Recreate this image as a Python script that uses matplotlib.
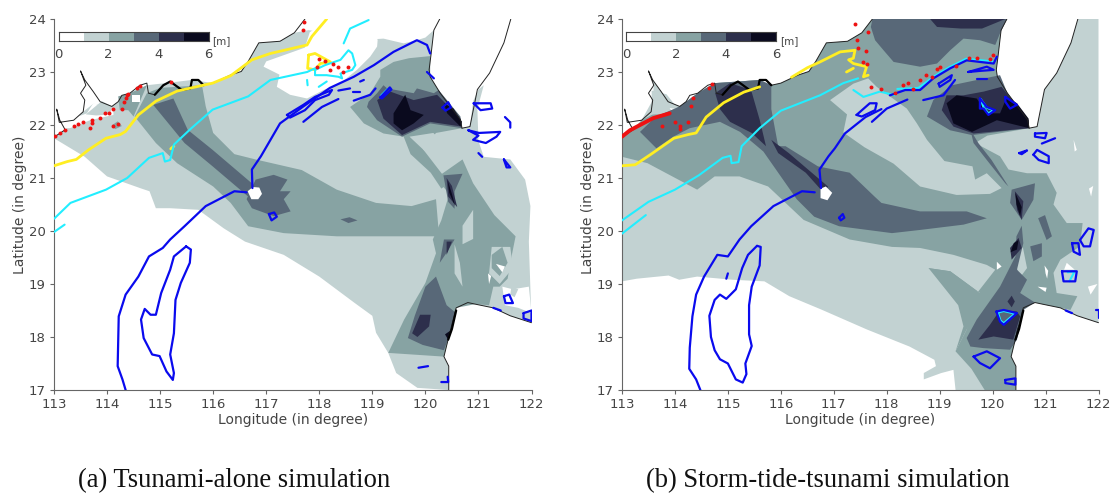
import matplotlib
matplotlib.use("Agg")
import matplotlib.pyplot as plt
from matplotlib.colors import ListedColormap

# depth classes, white to near black
level_colors = ["#ffffff", "#c2d2d2", "#87a3a3", "#586878", "#2d2f4c", "#0a0a1e"]
bar_ticks = [0, 2, 4, 6]
bar_values = [0, 1, 2, 3, 4, 5]
lon_ticks = [113, 114, 115, 116, 117, 118, 119, 120, 121, 122]
lat_ticks = [17, 18, 19, 20, 21, 22, 23, 24]

# coastlines shared by both panels
coast_china = [(113.0, 21.77), (113.21, 21.91), (113.11, 22.09), (113.05, 22.3), (113.1, 22.05), (113.37, 22.09),
               (113.55, 22.25), (113.58, 22.47), (113.5, 22.6), (113.6, 22.75), (113.5, 23.02), (113.58, 22.85),
               (113.74, 22.63), (113.87, 22.44), (114.09, 22.35), (114.21, 22.44), (114.28, 22.56), (114.43, 22.6),
               (114.62, 22.75), (114.75, 22.79), (114.78, 22.6), (114.9, 22.57), (115.06, 22.75), (115.19, 22.82),
               (115.41, 22.66), (115.57, 22.69), (115.6, 22.85), (115.72, 22.85), (115.82, 22.75), (116.0, 22.79),
               (116.32, 22.94), (116.53, 23.01), (116.66, 23.2), (116.86, 23.55), (117.26, 23.58), (117.53, 23.74),
               (117.73, 24)]
coast_dark = [(114.9, 22.57), (115.06, 22.75), (115.19, 22.82), (115.41, 22.66), (115.57, 22.69), (115.6, 22.85),
              (115.72, 22.85), (115.82, 22.75)]
coast_taiwan_w = [(120.69, 21.94), (120.66, 22.1), (120.28, 22.6), (120.09, 22.91), (120.07, 23.04), (120.11, 23.36),
                  (120.16, 23.79), (120.27, 24)]
coast_taiwan_e = [(120.69, 21.94), (120.84, 21.97), (120.98, 22.67), (121.21, 22.98), (121.48, 23.55), (121.61, 24)]
coast_luzon = [(120.44, 17), (120.44, 17.45), (120.35, 17.63), (120.44, 18.0), (120.58, 18.55), (120.8, 18.65),
               (120.94, 18.62), (121.28, 18.55), (121.6, 18.4), (122, 18.27)]
coast_luzon_dark = [(120.43, 17.95), (120.5, 18.15), (120.58, 18.5)]

# panel (a), filled contours as (lon, lat)
a_l1 = [(113, 21.78), (113.21, 21.91), (113.55, 22.25), (113.74, 22.4), (114.09, 22.35), (114.43, 22.6),
        (114.75, 22.75), (115.19, 22.8), (115.6, 22.85), (116.0, 22.79), (116.53, 23.01), (116.66, 23.2),
        (116.86, 23.55), (117.26, 23.58), (117.53, 23.74), (117.8, 23.79), (118.3, 23.7), (119.06, 23.62),
        (119.21, 23.63), (119.59, 23.54), (119.84, 23.6), (120.0, 23.65), (120.16, 23.79), (120.11, 23.36),
        (120.07, 23.04), (120.09, 22.91), (120.28, 22.6), (120.66, 22.1), (120.69, 21.94), (120.84, 21.97),
        (120.9, 22.45), (121.0, 22.67), (121.1, 22.75), (120.98, 22.3), (121.0, 21.7), (121.1, 21.4), (121.6, 21.35),
        (121.88, 20.97), (121.98, 20.47), (121.95, 19.8), (122, 18.27), (121.6, 18.4), (121.28, 18.55), (120.94, 18.62),
        (120.8, 18.65), (120.58, 18.55), (120.44, 18.0), (120.35, 17.63), (120.44, 17.45), (120.44, 17), (119.85, 17.04),
        (119.45, 17.32), (119.3, 17.7), (119.07, 18.08), (119, 18.4), (118.67, 18.64), (118, 19.14), (117.33, 19.55),
        (116.6, 19.8), (116.2, 20.05), (115.72, 20.4), (115.19, 20.43), (114.92, 20.43), (114.8, 20.75),
        (114.65, 20.8), (114, 21.03), (113.58, 21.4), (113, 21.75)]
a_white1 = [(117.0, 23.2), (117.73, 23.46), (117.82, 23.75), (118.2, 24), (119.0, 24), (119.1, 23.6), (119.09, 23.48),
            (118.96, 23.29), (118.71, 23.04), (118.4, 22.79), (118.08, 22.66), (117.77, 22.5), (117.45, 22.57),
            (117.2, 22.72), (117.25, 22.95), (116.95, 23.1)]
a_white2 = [(113.18, 21.94), (113.37, 22.13), (113.62, 22.22), (113.74, 22.41), (114.12, 22.31), (114.12, 22.19),
            (113.68, 22.09), (113.3, 21.94)]
a_white3 = [(121.45, 18.95), (121.65, 18.9), (121.95, 18.95), (122, 18.45), (121.75, 18.55), (121.5, 18.6)]
a_l1_north = [(113.6, 22.2), (113.9, 22.45), (114.1, 22.35), (114.05, 22.2), (113.8, 22.18)]
a_l1_arc = [(121.62, 18.95), (121.75, 18.9), (121.68, 18.75), (121.6, 18.8)]
a_l2_main = [(114.52, 22.16), (114.75, 22.6), (115.0, 22.7), (115.79, 22.75), (115.86, 22.35), (116.0, 21.85),
             (116.4, 21.45), (116.8, 21.35), (117.67, 21.15), (118.33, 20.78), (119.07, 20.53), (119.74, 20.47),
             (120.2, 20.6), (120.25, 20.0), (120.2, 19.9), (119.67, 19.9), (118.33, 19.9), (117.33, 19.96),
             (116.66, 20.09), (116.33, 20.53), (116, 20.84), (115.32, 21.28), (114.92, 21.66)]
a_l2_top = [(114.21, 22.54), (114.43, 22.6), (114.75, 22.75), (114.5, 22.16), (114.4, 22.28), (114.24, 22.28)]
a_l2_dot = [(114.1, 22.0), (114.2, 22.07), (114.28, 21.98), (114.15, 21.92)]
a_l2_strait = [(120.09, 23.3), (119.69, 23.26), (119.4, 23.19), (119.15, 23.04), (119.15, 22.91), (118.96, 22.6),
               (118.58, 22.34), (118.84, 22.03), (119.21, 21.84), (119.59, 21.78), (119.72, 21.45), (120.1, 21.1),
               (120.3, 20.8), (120.45, 20.9), (119.95, 21.55), (120.2, 21.85), (120.69, 21.94), (120.66, 22.1),
               (120.28, 22.6), (120.09, 22.91)]
a_l2_south = [(120.2, 21.0), (120.7, 21.35), (120.9, 20.9), (121.3, 20.3), (121.7, 19.9), (121.6, 19.4), (121.55, 19.1),
              (121.4, 18.95), (121.28, 18.95), (121.2, 18.6), (120.94, 18.62), (120.58, 18.55), (120.44, 18.0),
              (120.35, 17.63), (119.3, 17.7), (119.6, 18.33), (120.0, 19.02), (120.2, 19.58), (120.14, 19.84),
              (120.3, 20.2), (120.45, 20.7)]
a_l1_hole = [(119.7, 21.78), (120.15, 21.85), (120.55, 21.45), (120.4, 21.3), (120.05, 21.45)]
a_l1_hole2 = [(120.55, 19.75), (120.65, 19.4), (120.7, 18.95), (120.55, 19.2)]
a_l1_hole3 = [(121.25, 19.7), (121.6, 19.7), (121.65, 19.3), (121.4, 19.0), (121.2, 19.2)]
a_l1_hole4 = [(120.7, 20.1), (120.9, 20.4), (120.9, 19.85), (120.7, 19.75)]
a_l2_oval = [(121.25, 19.55), (121.45, 19.7), (121.55, 19.4), (121.4, 19.15), (121.25, 19.3)]
a_white_oval = [(121.33, 19.38), (121.5, 19.33), (121.45, 19.22)]
a_white_nick = [(121.18, 19.2), (121.24, 19.15), (121.2, 19.0)]
a_l3_wedge = [(114.87, 22.38), (115.25, 22.5), (115.52, 21.91), (115.99, 21.53), (116.8, 20.84), (116.66, 20.65),
              (115.99, 21.22), (115.46, 21.66)]
a_l3_blob = [(116.8, 20.97), (117.14, 21.06), (117.4, 20.97), (117.26, 20.75), (117.46, 20.75), (117.33, 20.6),
             (117.46, 20.37), (117.14, 20.28), (116.73, 20.43), (116.63, 20.6)]
a_l3_small = [(118.4, 20.22), (118.57, 20.26), (118.72, 20.2), (118.55, 20.15)]
a_l3_strait = [(118.93, 22.44), (119.09, 22.6), (119.21, 22.75), (119.28, 22.69), (119.78, 22.6), (119.84, 22.69),
               (120.16, 22.6), (120.25, 22.66), (120.66, 22.16), (120.69, 21.94), (120.09, 22.03), (119.56, 21.78),
               (119.09, 22.09), (118.9, 22.34)]
a_l3_trench = [(120.34, 21.05), (120.7, 21.08), (120.55, 20.75), (120.55, 20.42), (120.43, 20.55)]
a_l3_trench2 = [(120.35, 19.84), (120.55, 19.84), (120.4, 19.59), (120.27, 19.4)]
a_l3_south = [(120.0, 18.95), (120.2, 19.14), (120.4, 18.6), (120.58, 18.45), (120.44, 18.0), (120.35, 17.75),
              (119.95, 17.85), (119.67, 17.98), (119.8, 18.4)]
a_l4_strait = [(119.09, 22.47), (119.34, 22.63), (119.78, 22.47), (120.22, 22.57), (120.66, 22.12), (120.69, 21.97),
               (120.09, 22.06), (119.56, 21.81), (119.21, 22.12)]
a_l4_trench = [(120.4, 21.0), (120.5, 20.85), (120.6, 20.45), (120.43, 20.65)]
a_l4_trench2 = [(120.4, 19.8), (120.5, 19.8), (120.4, 19.55)]
a_l4_south = [(119.75, 18.07), (119.9, 18.42), (120.1, 18.42), (120.07, 18.2), (119.85, 18.0)]
a_l5_strait = [(119.4, 22.22), (119.62, 22.57), (119.72, 22.28), (119.97, 22.19), (119.78, 22.03), (119.56, 21.9),
               (119.4, 22.03)]
a_l5_strait2 = [(120.35, 22.41), (120.53, 22.31), (120.69, 22.06), (120.66, 21.97), (120.41, 22.22)]
a_l5_south = [(120.37, 18.05), (120.47, 18.12), (120.44, 17.93)]
a_l5_trench = [(120.42, 20.95), (120.5, 20.7), (120.56, 20.47), (120.45, 20.72)]
a_white_dong = [(116.65, 20.75), (116.75, 20.83), (116.87, 20.82), (116.92, 20.7), (116.85, 20.6), (116.72, 20.6)]
a_white_west = [(114.47, 22.56), (114.62, 22.56), (114.62, 22.43), (114.47, 22.43)]
a_fills = [(1, a_l1), (0, a_white1), (0, a_white2), (0, a_white3), (1, a_l1_north), (1, a_l1_arc),
           (2, a_l2_main), (2, a_l2_top), (2, a_l2_dot), (2, a_l2_strait), (2, a_l2_south),
           (1, a_l1_hole), (1, a_l1_hole2), (1, a_l1_hole3), (1, a_l1_hole4), (2, a_l2_oval), (0, a_white_oval), (0, a_white_nick),
           (3, a_l3_wedge), (3, a_l3_blob), (3, a_l3_small), (3, a_l3_strait), (3, a_l3_trench), (3, a_l3_trench2),
           (3, a_l3_south), (4, a_l4_strait), (4, a_l4_trench), (4, a_l4_trench2), (4, a_l4_south),
           (5, a_l5_strait), (5, a_l5_strait2), (5, a_l5_south), (5, a_l5_trench), (0, a_white_dong), (0, a_white_west)]

# panel (b), filled contours
b_l1 = [(113, 19.05), (113.28, 19.1), (113.88, 19.16), (114.08, 19.08), (114.42, 19.14), (115.09, 19.08),
        (115.69, 19.05), (116.16, 18.77), (116.76, 18.52), (117.63, 18.14), (118.43, 17.82), (118.9, 17.57),
        (118.93, 17.45), (118.7, 17.32), (118.7, 17.2), (119.03, 17.32), (119.26, 17.38), (119.3, 17), (120.44, 17),
        (120.44, 17.45), (120.35, 17.63), (120.44, 18.0), (120.58, 18.55), (120.8, 18.65), (120.94, 18.62), (121.28, 18.55),
        (121.6, 18.4), (122, 18.27), (122, 24), (121.61, 24), (121.48, 23.55), (121.21, 22.98), (120.98, 22.67),
        (120.84, 21.97), (120.69, 21.94), (120.66, 22.1), (120.28, 22.6), (120.09, 22.91), (120.07, 23.04), (120.11, 23.36),
        (120.16, 23.79), (120.27, 24), (117.73, 24), (117.53, 23.74), (117.26, 23.58), (116.86, 23.55), (116.66, 23.2),
        (116.53, 23.01), (116.32, 22.94), (116.0, 22.79), (115.82, 22.75), (115.6, 22.85), (115.19, 22.82), (114.75, 22.79),
        (114.43, 22.6), (114.09, 22.35), (113.87, 22.44), (113.74, 22.63), (113.58, 22.85), (113.5, 23.02), (113.6, 22.75),
        (113.58, 22.47), (113.37, 22.09), (113.21, 21.91), (113, 21.78)]
b_l2_main = [(113, 21.78), (113.21, 21.91), (113.37, 22.09), (113.58, 22.2), (113.74, 22.2), (114.09, 22.35), (114.43, 22.6),
             (114.75, 22.79), (115.19, 22.82), (115.6, 22.85), (115.82, 22.75), (116.0, 22.79), (116.32, 22.94), (116.53, 23.01),
             (116.66, 23.2), (116.86, 23.55), (117.26, 23.58), (117.53, 23.74), (117.73, 24), (120.27, 24), (120.16, 23.79),
             (120.11, 23.36), (120.07, 23.04), (120.09, 22.91), (120.28, 22.6), (120.66, 22.1), (120.69, 21.94), (119.9, 21.8),
             (119.67, 21.66), (120.14, 21.41), (120.3, 21.16), (120.65, 21.09), (121.02, 21.09), (121.21, 20.72), (121.15, 20.5),
             (121.4, 20.15), (121.7, 20.15), (121.65, 19.71), (121.28, 19.46), (121.15, 19.21), (121.21, 18.83), (121.6, 18.77),
             (121.47, 18.51), (121.28, 18.55), (120.94, 18.62), (120.8, 18.65), (120.58, 18.55), (120.44, 18.0), (120.35, 17.63),
             (120.44, 17.45), (120.44, 17), (119.85, 17), (119.6, 17.4), (119.3, 17.73), (119.51, 18.14), (119.76, 18.83),
             (119.2, 19.24), (118.79, 19.3), (119.35, 18.9), (119.73, 18.86), (120.05, 19.27), (119.89, 19.36), (119.26, 19.55),
             (118.63, 19.68), (118.1, 19.7), (117.3, 19.84), (116.43, 20.21), (115.76, 20.84), (115.22, 21.03), (114.75, 21.03),
             (114.42, 20.78), (113.95, 21.03), (113.48, 21.28), (113, 21.4)]
b_l2_tri = [(118.79, 19.3), (119.2, 19.24), (119.76, 18.83), (119.95, 18.85), (119.51, 18.14), (119.3, 17.73), (119.45, 18.2),
            (119.35, 18.6)]
b_l1_north = [(116.93, 22.47), (117.37, 22.78), (117.65, 22.88), (117.81, 22.72), (118.38, 22.31), (118.57, 22.03), (118.76, 21.72),
              (119.09, 21.32), (119.62, 21.22), (119.67, 20.97), (119.89, 21.09), (120.17, 20.81), (119.95, 20.7), (119.32, 20.68),
              (118.63, 20.84), (118.13, 21.27), (117.58, 21.58), (117.18, 21.86), (117.25, 22.2)]
b_l1_west = [(113.56, 22.65), (113.84, 22.58), (114.0, 22.38), (114.06, 22.28), (113.78, 22.22), (113.56, 22.2)]
b_white_west = [(113.9, 22.32), (114.25, 22.27), (114.2, 22.08), (114.0, 22.18)]
b_l1_south1 = [(120.42, 19.5), (120.57, 19.7), (120.65, 19.3), (120.5, 19.1)]
b_l1_south2 = [(121.45, 19.2), (121.7, 19.15), (121.9, 18.9), (121.5, 18.8)]
b_l3_north = [(117.7, 23.85), (117.78, 23.6), (117.94, 23.41), (118.13, 23.19), (118.63, 23.1), (118.95, 23.16), (119.2, 23.41),
              (119.45, 23.63), (119.76, 23.6), (120.05, 23.51), (120.14, 23.73), (120.27, 24), (117.73, 24)]
b_l4_top = [(118.82, 24), (118.95, 23.85), (119.4, 23.82), (119.8, 23.82), (120.24, 24)]
b_l3_band = [(113.34, 21.87), (113.65, 21.56), (113.97, 21.78), (114.28, 21.94), (114.85, 22.06), (115.23, 21.87), (115.67, 21.5),
             (116.3, 20.6), (116.63, 20.27), (117.1, 20.09), (118.1, 19.96), (118.63, 20.02), (119.45, 20.12), (119.89, 20.24),
             (119.51, 20.37), (118.63, 20.37), (117.9, 20.53), (117.77, 20.65), (117.3, 21.1), (116.7, 21.22), (116.09, 21.6),
             (115.95, 21.6), (115.82, 22.3), (115.82, 22.75), (115.6, 22.85), (115.19, 22.82), (114.75, 22.79), (114.43, 22.6),
             (114.09, 22.35), (113.74, 22.2), (113.58, 22.1)]
b_l3_strait = [(118.76, 22.16), (118.88, 22.47), (119.23, 22.75), (120.14, 22.94), (120.28, 22.6), (120.66, 22.1), (120.69, 21.94),
               (119.61, 21.81), (119.2, 21.9)]
b_l3_thin = [(119.58, 21.91), (119.73, 21.66), (119.98, 21.34), (120.3, 20.84), (120.24, 20.9), (119.89, 21.34), (119.64, 21.66)]
b_l3_trench = [(120.36, 20.78), (120.8, 20.9), (120.77, 20.59), (120.55, 20.21), (120.33, 20.53)]
b_l3_south = [(119.51, 17.98), (119.7, 18.33), (120.14, 18.95), (120.43, 19.52), (120.45, 19.9), (120.55, 20.1), (120.58, 19.77),
              (120.46, 19.27), (120.65, 19.08), (120.52, 18.83), (120.8, 18.65), (120.58, 18.51), (120.46, 17.95), (120.33, 17.76),
              (119.83, 17.79), (119.58, 17.82)]
b_l3_oval1 = [(120.86, 20.24), (120.99, 20.3), (121.12, 19.9), (121.02, 19.83)]
b_l3_oval2 = [(120.71, 19.71), (120.93, 19.77), (120.93, 19.52), (120.77, 19.43)]
b_l4_west = [(114.76, 22.6), (115.04, 22.79), (115.35, 22.69), (115.45, 22.62), (115.6, 22.1), (115.72, 21.6), (115.45, 21.85),
             (115.04, 22.06), (114.85, 22.3)]
b_l4_wedge = [(115.82, 21.72), (116.15, 21.47), (116.89, 20.84), (116.82, 20.71), (116.47, 21.1), (115.95, 21.47)]
b_l4_strait = [(119.04, 22.28), (119.13, 22.56), (119.45, 22.56), (119.83, 22.63), (120.17, 22.72), (120.68, 22.09), (120.69, 21.94),
               (119.64, 21.84), (119.26, 21.97)]
b_l4_trench = [(120.42, 20.75), (120.58, 20.56), (120.55, 20.21), (120.46, 20.4)]
b_l4_trench2 = [(120.33, 19.68), (120.49, 19.87), (120.55, 19.68), (120.36, 19.46)]
b_l4_south = [(119.73, 17.95), (119.95, 18.23), (120.14, 18.51), (120.46, 18.48), (120.52, 18.39), (120.39, 17.95), (120.02, 18.01)]
b_l4_dot = [(120.28, 18.67), (120.36, 18.78), (120.42, 18.67), (120.36, 18.56)]
b_l5_strait = [(119.13, 22.41), (119.32, 22.56), (119.7, 22.5), (119.89, 22.22), (120.14, 22.22), (120.27, 22.53), (120.46, 22.41),
               (120.68, 22.12), (120.69, 21.94), (120.08, 22.09), (119.61, 21.87), (119.26, 22.03)]
b_l5_trench = [(120.43, 20.72), (120.55, 20.45), (120.52, 20.28), (120.45, 20.5)]
b_l5_trench2 = [(120.4, 19.77), (120.49, 19.83), (120.46, 19.65), (120.34, 19.6)]
b_l5_south = [(120.46, 18.14), (120.52, 18.29), (120.43, 17.98)]
b_heart = [(120.07, 18.48), (120.21, 18.51), (120.46, 18.45), (120.21, 18.23), (120.14, 18.29)]
b_white_dong = [(116.75, 20.8), (116.85, 20.84), (116.97, 20.72), (116.88, 20.58), (116.75, 20.62)]
b_white_a = [(120.08, 19.42), (120.17, 19.33), (120.08, 19.27)]
b_white_b = [(121.4, 19.4), (121.55, 19.27), (121.35, 19.27)]
b_white_c = [(121.53, 21.72), (121.59, 21.53), (121.55, 21.5)]
b_white_d = [(121.82, 20.8), (121.9, 20.85), (121.86, 20.65)]
b_white_e = [(121.8, 18.95), (121.98, 19.0), (121.85, 18.8)]
b_white_f = [(120.85, 18.95), (121.02, 18.93), (121.0, 18.85)]
b_white_g = [(120.98, 19.35), (121.0, 19.2), (121.03, 19.1), (121.05, 19.25)]
b_fills = [(1, b_l1), (2, b_l2_main), (2, b_l2_tri), (1, b_l1_north), (1, b_l1_south1), (1, b_l1_south2),
           (1, b_l1_west), (0, b_white_west), (3, b_l3_north), (4, b_l4_top), (3, b_l3_band), (3, b_l3_strait), (3, b_l3_thin),
           (3, b_l3_trench), (3, b_l3_south), (3, b_l3_oval1), (3, b_l3_oval2),
           (4, b_l4_west), (4, b_l4_wedge), (4, b_l4_strait), (4, b_l4_trench), (4, b_l4_trench2), (4, b_l4_south), (4, b_l4_dot),
           (5, b_l5_strait), (5, b_l5_trench), (5, b_l5_trench2), (5, b_l5_south), (3, b_heart),
           (0, b_white_dong), (0, b_white_a), (0, b_white_b), (0, b_white_c), (0, b_white_d), (0, b_white_e), (0, b_white_f), (0, b_white_g)]

# tracks in panel (a)
a_yellow = [(113, 21.23), (113.25, 21.31), (113.42, 21.35), (113.65, 21.53), (113.98, 21.75), (114.25, 21.82),
            (114.35, 21.88), (114.59, 22.19), (114.92, 22.45), (115.32, 22.64), (115.99, 22.79), (116.33, 22.93),
            (116.73, 23.23), (117.08, 23.35), (117.77, 23.51), (117.86, 23.67), (118.14, 24)]
a_yellow_loop = [(117.8, 23.32), (117.92, 23.35), (118.21, 23.19), (118.02, 23.16), (117.92, 23.04), (117.78, 23.07), (117.8, 23.32)]
a_yellow_dab = [(115.2, 21.55), (115.26, 21.6)]
a_cyan = [(113, 20.23), (113.31, 20.53), (113.98, 20.78), (114.38, 21), (114.79, 21.38), (115.05, 21.47), (115.09, 21.31),
          (115.19, 21.34), (115.26, 21.63), (115.59, 21.94), (115.99, 22.29), (116.66, 22.54), (117.08, 22.85), (117.77, 23.0), (117.92, 23.07)]
a_cyan2 = [(118.46, 23.54), (118.58, 23.82), (118.93, 23.98)]
a_cyan3 = [(113, 19.98), (113.2, 20.12)]
a_cyan_loop = [(117.92, 23.04), (118.11, 23.13), (118.4, 23.23), (118.55, 23.41), (118.62, 23.35), (118.68, 23.13), (118.62, 23.04),
               (118.4, 22.97), (118.43, 22.88), (118.36, 22.91), (118.14, 22.94), (117.92, 22.94), (117.92, 23.04)]
a_cyan_s1 = [(117.77, 22.85), (117.78, 22.75)]
a_cyan_s2 = [(117.99, 22.72), (118.14, 22.82)]
a_cyan_s3 = [(119.17, 22.56), (119.29, 22.68)]
a_blue_north = [(116.74, 20.81), (116.73, 21.16), (116.9, 21.41), (117.08, 21.72), (117.26, 22.03), (117.7, 22.35), (118.2, 22.7),
                (118.65, 22.91), (119.03, 23.13), (119.4, 23.38), (119.84, 23.6), (120.03, 23.51), (120.09, 23.35)]
a_blue_south = [(116.63, 20.73), (116.4, 20.75), (115.86, 20.47), (115.46, 20.09), (115.19, 19.84), (115.05, 19.68),
                (114.79, 19.52), (114.59, 19.14), (114.35, 18.8), (114.22, 18.39), (114.2, 17.45), (114.29, 17.2), (114.35, 17)]
a_blue_loop = [(115.49, 19.71), (115.58, 19.65), (115.56, 19.4), (115.39, 19.02), (115.29, 18.7), (115.26, 18.07),
               (115.19, 17.67), (115.26, 17.32), (115.24, 17.19), (115.12, 17.35), (114.99, 17.64), (114.85, 17.67),
               (114.69, 17.98), (114.64, 18.33), (114.71, 18.53), (114.82, 18.42), (114.92, 18.42), (115.02, 18.83),
               (115.19, 19.27), (115.26, 19.52), (115.49, 19.71)]
a_blue_s1 = [(117.39, 22.19), (117.7, 22.38), (117.92, 22.53), (118.24, 22.66), (118.18, 22.57), (117.92, 22.47), (117.73, 22.28),
             (117.45, 22.14), (117.39, 22.19)]
a_blue_s2 = [(117.7, 22.06), (118.05, 22.34), (118.36, 22.49)]
a_blue_s3 = [(118.36, 22.65), (118.58, 22.69)]
a_blue_s4 = [(118.65, 22.46), (118.96, 22.57), (119.06, 22.69)]
a_blue_s5 = [(119.15, 22.52), (119.33, 22.71), (119.36, 22.67), (119.18, 22.5), (119.15, 22.52)]
a_blue_s6 = [(120.91, 22.41), (121.23, 22.41), (121.26, 22.31), (121.04, 22.28), (120.91, 22.41)]
a_blue_s7 = [(120.81, 21.9), (121.01, 21.85), (121.41, 21.87), (121.34, 21.78), (121.14, 21.66), (120.9, 21.72), (121.0, 21.8), (120.81, 21.9)]
a_blue_s8 = [(121.48, 21.35), (121.6, 21.2), (121.53, 21.2), (121.48, 21.35)]
a_blue_s9 = [(120.32, 22.33), (120.43, 22.43), (120.48, 22.33), (120.38, 22.27), (120.32, 22.33)]
a_blue_s10 = [(120.03, 23.0), (120.16, 22.88)]
a_blue_s11 = [(121.48, 18.77), (121.58, 18.8), (121.65, 18.64), (121.51, 18.64), (121.48, 18.77)]
a_blue_s12 = [(119.87, 17.42), (120.05, 17.45)]
a_blue_s13 = [(120.3, 17.15), (120.43, 17.15), (120.42, 17.25)]
a_blue_s14 = [(121.85, 18.45), (122, 18.5), (122, 18.3), (121.85, 18.35), (121.85, 18.45)]
a_blue_s15 = [(117.05, 20.32), (117.15, 20.35), (117.2, 20.27), (117.1, 20.2), (117.05, 20.32)]
a_blue_s16 = [(121.5, 22.15), (121.6, 22.05), (121.6, 21.95)]
a_blue_s17 = [(121.0, 21.47), (121.07, 21.4)]
a_blue_s18 = [(121.28, 18.55), (121.42, 18.5)]
a_blue_s19 = [(118.63, 22.63), (118.76, 22.63)]
a_blue_s20 = [(118.77, 22.82), (118.84, 22.85)]
a_red_lon = [113.02, 113.11, 113.21, 113.37, 113.46, 113.55, 113.71, 113.71, 113.87, 113.96, 114.03, 114.11, 114.28, 113.68, 114.11,
             114.21, 114.37, 114.36, 114.32, 114.62, 114.56, 115.2, 114.4, 117.72, 117.7, 118.0, 117.95, 118.25, 118.35, 118.2,
             118.55, 118.45, 118.1]
a_red_lat = [21.79, 21.84, 21.91, 21.98, 22.02, 22.05, 22.09, 22.03, 22.14, 22.22, 22.23, 22.31, 22.31, 21.94, 21.98,
             22.02, 22.56, 22.5, 22.44, 22.74, 22.69, 22.82, 22.59, 23.95, 23.8, 23.25, 23.1, 23.15, 23.1, 23.03,
             23.1, 23.0, 23.2]

# tracks in panel (b)
b_yellow = [(113, 21.23), (113.25, 21.25), (113.55, 21.45), (113.98, 21.75), (114.25, 21.82), (114.4, 21.85),
            (114.59, 22.15), (114.92, 22.42), (115.3, 22.62), (115.6, 22.72)]
b_yellow2 = [(116.2, 22.9), (116.5, 23.08), (116.74, 23.19), (117.12, 23.38), (117.4, 23.41), (117.37, 23.26), (117.28, 23.23),
             (117.37, 23.16), (117.62, 23.1), (117.56, 22.91), (117.65, 22.94)]
b_yellow3 = [(117.24, 23.0), (117.37, 23.07)]
b_cyan = [(113, 20.2), (113.5, 20.55), (114, 20.78), (114.45, 21.05), (114.9, 21.38), (115.05, 21.42), (115.07, 21.28),
          (115.2, 21.3), (115.26, 21.6), (115.6, 21.94), (116, 22.27), (116.74, 22.56), (117.18, 22.79), (117.46, 22.88)]
b_cyan2 = [(113, 19.95), (113.45, 20.3)]
b_cyan3 = [(117.37, 22.66), (117.56, 22.53), (117.87, 22.63), (118.16, 22.56)]
b_cyan_s1 = [(120.1, 18.46), (120.21, 18.49), (120.42, 18.44), (120.21, 18.26), (120.15, 18.31), (120.1, 18.46)]
b_cyan_s2 = [(119.78, 22.48), (119.9, 22.32), (120.02, 22.28), (119.92, 22.22), (119.83, 22.33), (119.78, 22.48)]
b_cyan_s3 = [(121.42, 19.22), (121.55, 19.24), (121.45, 19.05)]
b_cyan_s4 = [(118.2, 22.68), (118.6, 22.7), (118.9, 22.92), (119.2, 23.1), (119.5, 23.25), (120.0, 23.2)]
b_blue_north = [(116.76, 20.81), (116.73, 21.16), (116.9, 21.41), (117.02, 21.56), (117.21, 21.84), (117.6, 22.15), (117.9, 22.3)]
b_blue_south = [(116.64, 20.73), (116.4, 20.75), (115.86, 20.47), (115.44, 20.09), (115.22, 19.84), (115.0, 19.52),
                (114.8, 19.55), (114.55, 19.14), (114.4, 18.8), (114.33, 18.39), (114.28, 17.8), (114.27, 17.4), (114.4, 17.2), (114.48, 17)]
b_blue_loop = [(115.55, 19.72), (115.62, 19.7), (115.6, 19.35), (115.45, 18.95), (115.4, 18.6), (115.4, 18.05), (115.45, 17.83),
               (115.33, 17.5), (115.35, 17.3), (115.28, 17.14), (115.15, 17.2), (115.0, 17.5), (114.85, 17.58), (114.75, 17.75),
               (114.68, 18.0), (114.65, 18.4), (114.75, 18.7), (114.85, 18.8), (114.97, 18.72), (115.15, 18.9), (115.27, 19.3),
               (115.38, 19.55), (115.55, 19.72)]
b_blue_s1 = [(117.43, 22.19), (117.68, 22.41), (117.81, 22.41), (117.78, 22.28), (117.53, 22.16), (117.43, 22.19)]
b_blue_s2 = [(117.72, 22.06), (118.0, 22.31), (118.39, 22.48)]
b_blue_s3 = [(118.06, 22.56), (118.35, 22.66), (118.63, 22.66), (118.88, 22.88), (119.2, 23.07), (119.51, 23.22), (119.76, 23.19),
             (120.02, 23.16), (120.08, 23.29)]
b_blue_s4 = [(118.69, 22.47), (119.07, 22.56), (119.29, 22.85)]
b_blue_s5 = [(118.98, 22.78), (119.23, 22.94), (119.2, 22.85), (119.0, 22.72), (118.98, 22.78)]
b_blue_s6 = [(119.54, 23.0), (119.89, 23.1), (120.02, 23.04), (119.75, 23.02), (119.54, 23.0)]
b_blue_s7 = [(119.76, 22.5), (119.89, 22.34), (120.05, 22.28), (119.92, 22.19), (119.83, 22.31), (119.76, 22.31), (119.76, 22.5)]
b_blue_s8 = [(120.24, 22.53), (120.46, 22.38), (120.33, 22.31), (120.24, 22.44), (120.24, 22.53)]
b_blue_s9 = [(120.8, 21.84), (121.02, 21.85), (120.99, 21.75), (120.8, 21.78), (120.8, 21.84)]
b_blue_s10 = [(120.93, 21.65), (121.18, 21.75)]
b_blue_s11 = [(120.5, 21.47), (120.65, 21.52), (120.55, 21.45), (120.5, 21.47)]
b_blue_s12 = [(120.77, 21.44), (120.84, 21.53), (121.06, 21.41), (121.06, 21.28), (120.87, 21.34), (120.77, 21.44)]
b_blue_s13 = [(121.65, 19.83), (121.81, 20.05), (121.91, 20.02), (121.84, 19.71), (121.72, 19.71), (121.65, 19.83)]
b_blue_s14 = [(121.31, 19.24), (121.59, 19.24), (121.56, 19.05), (121.34, 19.05), (121.31, 19.24)]
b_blue_s15 = [(120.07, 18.48), (120.21, 18.51), (120.46, 18.45), (120.21, 18.23), (120.14, 18.29), (120.07, 18.48)]
b_blue_s16 = [(119.64, 17.63), (119.89, 17.73), (120.14, 17.6), (119.95, 17.41), (119.76, 17.51), (119.64, 17.63)]
b_blue_s17 = [(120.24, 17.19), (120.43, 17.22), (120.43, 17.1), (120.24, 17.13), (120.24, 17.19)]
b_blue_s18 = [(117.1, 20.25), (117.17, 20.32), (117.2, 20.25), (117.13, 20.2), (117.1, 20.25)]
b_blue_s19 = [(121.5, 19.77), (121.62, 19.77), (121.65, 19.55), (121.53, 19.61), (121.5, 19.77)]
b_blue_s20 = [(121.38, 18.5), (121.5, 18.45)]
b_blue_s21 = [(121.95, 18.5), (122, 18.5), (122, 18.35)]
b_blue_s22 = [(119.7, 22.86), (119.89, 22.86)]
b_blue_s23 = [(115.0, 19.2), (114.97, 19.1)]
b_red_chain = [(113.0, 21.78), (113.15, 21.9), (113.34, 22.0), (113.59, 22.13), (113.9, 22.22)]
b_red_lon = [113.75, 114.1, 114.25, 114.0, 114.1, 114.3, 114.35, 114.65, 114.7, 117.43, 117.65, 117.56, 117.62, 117.4, 117.7, 117.9,
             118.15, 118.5, 118.85, 119.0, 119.3, 119.55, 119.7, 119.95, 120.0, 118.3, 118.4, 118.62, 118.75, 118.95, 117.45, 117.6]
b_red_lat = [21.98, 21.98, 22.05, 22.05, 21.93, 22.35, 22.5, 22.7, 22.78, 23.6, 23.76, 23.19, 23.15, 23.9, 22.72, 22.68,
             22.6, 22.67, 22.9, 23.1, 23.12, 23.26, 23.27, 23.25, 23.32, 22.75, 22.8, 22.85, 22.95, 23.05, 23.45, 23.4]

a_blue = [a_blue_north, a_blue_south, a_blue_loop, a_blue_s1, a_blue_s2, a_blue_s3, a_blue_s4, a_blue_s5, a_blue_s6,
          a_blue_s7, a_blue_s8, a_blue_s9, a_blue_s10, a_blue_s11, a_blue_s12, a_blue_s13, a_blue_s14, a_blue_s15, a_blue_s16,
          a_blue_s17, a_blue_s18, a_blue_s19, a_blue_s20]
b_blue = [b_blue_north, b_blue_south, b_blue_loop, b_blue_s1, b_blue_s2, b_blue_s3, b_blue_s4, b_blue_s5, b_blue_s6,
          b_blue_s7, b_blue_s8, b_blue_s9, b_blue_s10, b_blue_s11, b_blue_s12, b_blue_s13, b_blue_s14, b_blue_s15, b_blue_s16,
          b_blue_s17, b_blue_s18, b_blue_s19, b_blue_s20, b_blue_s21, b_blue_s22, b_blue_s23]


def draw_line(ax, pts, color, lw, z=2):
    ax.plot([p[0] for p in pts], [p[1] for p in pts], color=color, lw=lw, solid_capstyle="round", zorder=z)


def draw_panel(ax, fills, blues, yellows, cyans, red_lon, red_lat, red_lines):
    for level, pts in fills:
        ax.fill([p[0] for p in pts], [p[1] for p in pts], color=level_colors[level], lw=0)
    for coast in [coast_china, coast_taiwan_w, coast_taiwan_e, coast_luzon]:
        draw_line(ax, coast, "#222222", 0.7)
    for coast in [coast_dark, coast_luzon_dark]:
        draw_line(ax, coast, "black", 1.6)
    for pts in yellows:
        draw_line(ax, pts, "#ffee22", 2.0, 3)
    for pts in cyans:
        draw_line(ax, pts, "#22eeff", 1.5, 3)
    for pts in blues:
        draw_line(ax, pts, "#0a0aee", 1.6, 4)
    for pts in red_lines:
        draw_line(ax, pts, "#ee1111", 2.8, 5)
    ax.scatter(red_lon, red_lat, s=8, color="#ee1111", lw=0, zorder=5)
    ax.set_xlim(113, 122)
    ax.set_ylim(17, 24)
    ax.set_xticks(lon_ticks)
    ax.set_yticks(lat_ticks)
    for side in ["top", "right"]:
        ax.spines[side].set_visible(False)
    for side in ["left", "bottom"]:
        ax.spines[side].set_color("#666666")
    ax.tick_params(colors="#444444", labelsize=9.5, length=3, width=0.8, pad=3, color="#666666")
    ax.set_xlabel("Longitude (in degree)", fontsize=10, color="#444444", labelpad=1)
    ax.set_ylabel("Latitude (in degree)", fontsize=10, color="#444444", labelpad=1)


def draw_bar(fig, left_px):
    W, H = 1110.0, 494.0
    cax = fig.add_axes([left_px / W, 1 - 41.5 / H, 150 / W, 9.5 / H])
    cax.pcolormesh([0, 1, 2, 3, 4, 5, 6], [0, 1], [bar_values], cmap=ListedColormap(level_colors), vmin=0, vmax=6)
    cax.set_xticks(bar_ticks)
    cax.set_yticks([])
    cax.tick_params(colors="#444444", labelsize=9.5, length=0, pad=5)
    for s in cax.spines.values():
        s.set_color("#444444")
        s.set_linewidth(0.8)
    cax.text(6.15, 0.0, "[m]", fontsize=7.5, color="#444444", va="center")


W, H = 1110.0, 494.0
fig = plt.figure(figsize=(11.1, 4.94), dpi=100)
ax_a = fig.add_axes([54 / W, 1 - 390 / H, 477.5 / W, 371 / H])
ax_b = fig.add_axes([622 / W, 1 - 390 / H, 476.5 / W, 371 / H])
draw_panel(ax_a, a_fills, a_blue, [a_yellow, a_yellow_loop, a_yellow_dab],
           [a_cyan, a_cyan2, a_cyan3, a_cyan_loop, a_cyan_s1, a_cyan_s2, a_cyan_s3], a_red_lon, a_red_lat, [])
draw_panel(ax_b, b_fills, b_blue, [b_yellow, b_yellow2, b_yellow3],
           [b_cyan, b_cyan2, b_cyan3, b_cyan_s1, b_cyan_s2, b_cyan_s3, b_cyan_s4], b_red_lon, b_red_lat, [b_red_chain])
draw_bar(fig, 58.5)
draw_bar(fig, 626)
fig.text(234.5 / W, 1 - 481 / H, "(a) Tsunami-alone simulation", family="Liberation Serif", fontsize=19.2, ha="center", va="center", color="#111111")
fig.text(828 / W, 1 - 481 / H, "(b) Storm-tide-tsunami simulation", family="Liberation Serif", fontsize=19.2, ha="center", va="center", color="#111111")
fig.savefig("out.png", dpi=100)
